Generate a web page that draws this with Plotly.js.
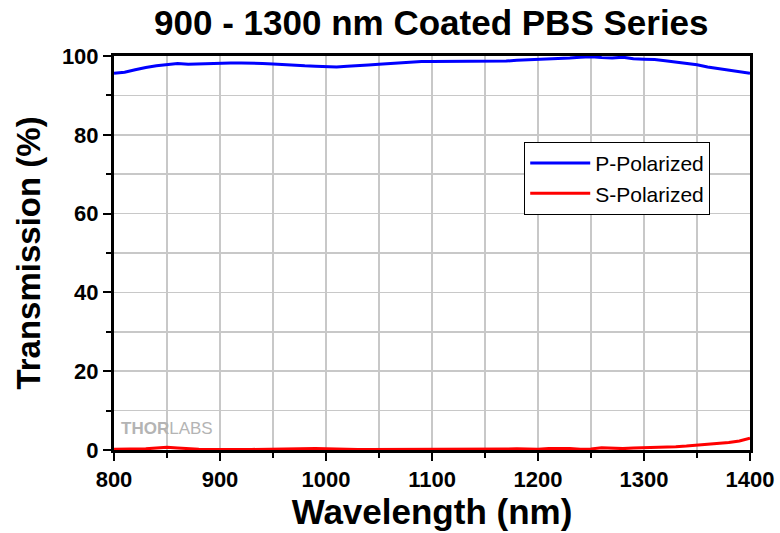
<!DOCTYPE html>
<html>
<head>
<meta charset="utf-8">
<script src="https://cdn.plot.ly/plotly-3.0.1.min.js"></script>
<style>html,body{margin:0;padding:0;background:#fff;}#chart{width:780px;height:533px;}</style>
</head>
<body>
<div id="chart"></div>
<script>
var wavelength = [800,810,820,830,840,850,860,870,880,890,900,910,920,930,940,950,960,970,980,990,1000,1010,1020,1030,1040,1050,1060,1070,1080,1090,1100,1110,1120,1130,1140,1150,1160,1170,1180,1190,1200,1210,1220,1230,1240,1250,1260,1270,1280,1290,1300,1310,1320,1330,1340,1350,1360,1370,1380,1390,1400];
var pPolarized = [95.6,95.9,96.5,97.1,97.5,97.8,98.1,97.9,98.0,98.1,98.2,98.2,98.2,98.2,98.1,98.0,97.8,97.6,97.5,97.4,97.3,97.2,97.4,97.5,97.7,97.9,98.1,98.3,98.5,98.6,98.6,98.6,98.6,98.6,98.7,98.7,98.7,98.7,98.9,99.0,99.2,99.3,99.4,99.5,99.7,99.8,99.6,99.5,99.7,99.3,99.2,99.1,98.8,98.5,98.2,97.8,97.2,96.8,96.3,96.0,95.6];
var sPolarized = [0.2,0.2,0.2,0.3,0.5,0.7,0.5,0.3,0.2,0.15,0.1,0.1,0.1,0.15,0.2,0.2,0.3,0.4,0.45,0.4,0.3,0.2,0.15,0.1,0.1,0.1,0.1,0.1,0.1,0.1,0.1,0.1,0.1,0.1,0.1,0.15,0.2,0.25,0.3,0.2,0.2,0.4,0.45,0.4,0.2,0.25,0.6,0.5,0.35,0.5,0.55,0.6,0.7,0.85,1.0,1.2,1.4,1.6,1.9,2.3,3.0];
var seriesNames = ["P-Polarized","S-Polarized"];
var xTickVals = [800,900,1000,1100,1200,1300,1400];
var yTickVals = [0,20,40,60,80,100];

var FONT = "Liberation Sans, Arial, sans-serif";
var traces = [
  {x: wavelength, y: pPolarized, name: seriesNames[0], type: "scatter", mode: "lines", line: {color: "#0000ff", width: 3}},
  {x: wavelength, y: sPolarized, name: seriesNames[1], type: "scatter", mode: "lines", line: {color: "#ff0000", width: 3}}
];
var gridC = "#c8c8c8";
var layout = {
  width: 780, height: 533,
  margin: {l: 114, r: 30, t: 56, b: 83},
  paper_bgcolor: "#fff", plot_bgcolor: "#fff",
  font: {family: FONT, color: "#000"},
  title: {text: "<b>900 - 1300 nm Coated PBS Series</b>", font: {family: FONT, size: 35, color: "#000"}, x: 0.553, xanchor: "center", y: 0.958, yanchor: "middle"},
  xaxis: {
    range: [800, 1400], tickvals: xTickVals, ticktext: xTickVals.map(String),
    showline: true, linewidth: 3, linecolor: "#000", mirror: true,
    ticks: "outside", ticklen: 8, tickwidth: 2, tickcolor: "#000",
    showgrid: true, gridcolor: gridC, gridwidth: 1.5, zeroline: false,
    tickfont: {family: FONT, size: 22, color: "#000", weight: "bold"},
    minor: {dtick: 50, tick0: 800, ticks: "outside", ticklen: 5, tickwidth: 2, tickcolor: "#000", showgrid: true, gridcolor: gridC, gridwidth: 1.5},
    title: {text: "<b>Wavelength (nm)</b>", font: {family: FONT, size: 35, color: "#000"}, standoff: 6}
  },
  yaxis: {
    range: [0, 100], tickvals: yTickVals, ticktext: yTickVals.map(String),
    showline: true, linewidth: 3, linecolor: "#000", mirror: true,
    ticks: "outside", ticklen: 8, tickwidth: 2, tickcolor: "#000",
    showgrid: true, gridcolor: gridC, gridwidth: 1.5, zeroline: false,
    tickfont: {family: FONT, size: 22, color: "#000", weight: "bold"},
    minor: {dtick: 10, tick0: 0, ticks: "outside", ticklen: 5, tickwidth: 2, tickcolor: "#000", showgrid: true, gridcolor: gridC, gridwidth: 1.5},
    title: {text: "<b>Transmission (%)</b>", font: {family: FONT, size: 33, color: "#000"}, standoff: 12}
  },
  legend: {
    x: 0.645, y: 0.782, xanchor: "left", yanchor: "top",
    bgcolor: "#fff", bordercolor: "#000", borderwidth: 1,
    font: {family: FONT, size: 21, color: "#000"},
    itemwidth: 60, tracegroupgap: 0
  },
  annotations: [
    {text: "<b>THOR</b>LABS", xref: "paper", yref: "paper", x: 0.008, y: 0.055, xanchor: "left", yanchor: "middle", showarrow: false, font: {family: FONT, size: 17, color: "#b4b4b4"}}
  ]
};
Plotly.newPlot("chart", traces, layout, {displayModeBar: false, staticPlot: true});
</script>
</body>
</html>
